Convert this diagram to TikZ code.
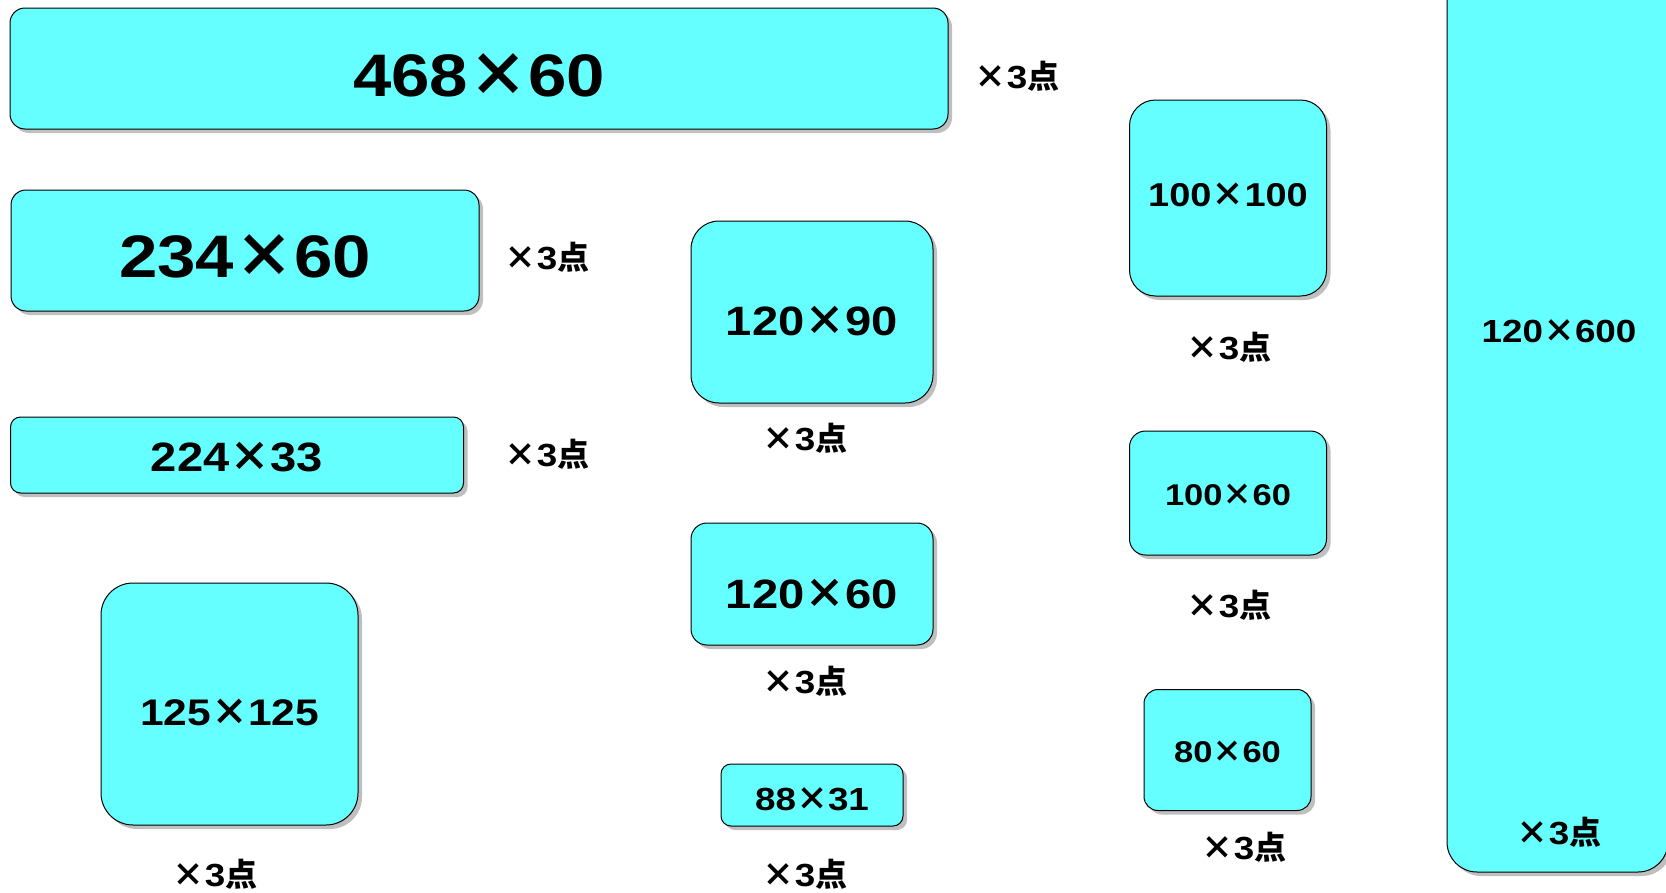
\documentclass[tikz,border=0pt]{standalone}
\usepackage{fontspec}
\setmainfont{Liberation Sans}
\newfontfamily\numfont[FakeStretch=1.15]{Liberation Sans}
\newfontfamily\cjk[RawFeature=+fwid]{Noto Sans CJK JP}
\usetikzlibrary{shadows}

\definecolor{bannercyan}{RGB}{102,255,255}
\newcommand{\pts}[1]{\fontsize{#1}{#1}\selectfont}
\newcommand{\by}{{\cjk\bfseries ×}}
\newcommand{\tallytext}{\by{\numfont\bfseries 3}{\cjk\bfseries 点}}

\begin{document}
\begin{tikzpicture}[x=1pt, y=-1pt,
    banner/.style={draw=black, line width=1pt, fill=bannercyan,
        rounded corners=#1, inner sep=0pt,
        drop shadow={shadow xshift=4pt, shadow yshift=-4pt, fill=black!25, opacity=1}},
    banner/.default=15pt,
    size/.style={font=\numfont\bfseries\pts{#1}},
    sink/.style={text height=#1, text depth=0pt},
    tally/.style={font=\pts{32}}]
    \useasboundingbox (0,0) rectangle (1666,892);
    % left column
    \node[banner, size=60, sink=55pt, minimum width=938, minimum height=121] (b468) at (479,68.5) {468\by60};
    \node[tally] (t468) at (1017,76) {\tallytext};
    \node[banner, size=60, sink=53pt, minimum width=468, minimum height=121] (b234) at (245,250.5) {234\by60};
    \node[tally] (t234) at (547,257) {\tallytext};
    \node[banner=10pt, size=41, sink=33.4pt, minimum width=453, minimum height=76] (b224) at (237,455) {224\by33};
    \node[tally] (t224) at (547,454) {\tallytext};
    \node[banner=32pt, size=37, sink=43.5pt, minimum width=257, minimum height=242] (b125) at (229.5,704) {125\by125};
    \node[tally] (t125) at (215,874) {\tallytext};
    % middle column
    \node[banner=28pt, size=41, sink=47.4pt, minimum width=242, minimum height=182] (b120a) at (812,312) {120\by90};
    \node[tally] (t120a) at (805,438) {\tallytext};
    \node[banner=16pt, size=41, sink=49.4pt, minimum width=242, minimum height=122] (b120b) at (812,584) {120\by60};
    \node[tally] (t120b) at (805,681) {\tallytext};
    \node[banner=10pt, size=32, sink=31pt, minimum width=182, minimum height=62] (b88) at (812,795) {88\by31};
    \node[tally] (t88) at (805,874) {\tallytext};
    % right column
    \node[banner=26pt, size=33, text height=23.6pt, text depth=6pt, minimum width=197, minimum height=196] (b100a) at (1228,198) {100\by100};
    \node[tally] (t100a) at (1229,347) {\tallytext};
    \node[banner=16pt, size=30, sink=25.5pt, minimum width=197, minimum height=124] (b100b) at (1228,493) {100\by60};
    \node[tally] (t100b) at (1229,605) {\tallytext};
    \node[banner=14pt, size=30, sink=25.5pt, minimum width=167, minimum height=121] (b80) at (1227.5,750) {80\by60};
    \node[tally] (t80) at (1244,847) {\tallytext};
    % tall banner
    \node[banner=30pt, minimum width=221, minimum height=912] (b600) at (1557.5,416) {};
    \node[size=32] (l600) at (1559,331.5) {120\by600};
    \node[tally] (t600) at (1559,832) {\tallytext};
\end{tikzpicture}
\end{document}
